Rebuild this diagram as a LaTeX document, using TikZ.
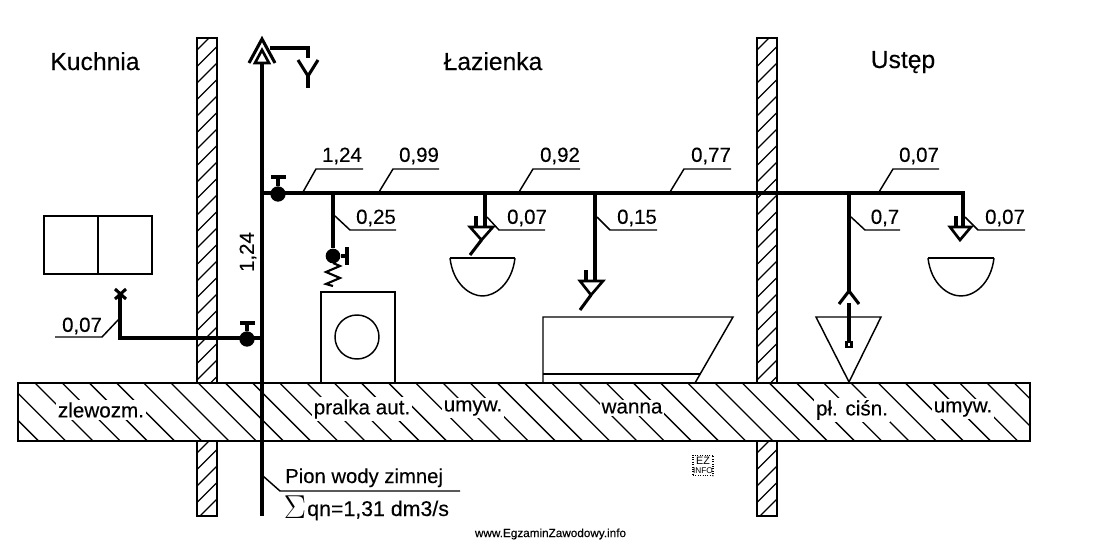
\documentclass[tikz,border=0pt]{standalone}
\usepackage{fontspec}
\setmainfont{Liberation Sans}[FakeBold=0.25]
\newfontfamily\stampfont{Liberation Sans}
\newcommand{\fsA}{\fontsize{18.5}{20}\selectfont}
\newcommand{\fsB}{\fontsize{15.3}{17}\selectfont}
\newcommand{\fsC}{\fontsize{15.5}{17}\selectfont}
\tikzset{
 pipe/.style={line width=2.5pt,draw=black,line cap=butt},
 subpipe/.style={line width=2.3pt,draw=black},
 fixture/.style={line width=1.1pt,draw=black},
 leader/.style={line width=1.1pt,draw=black},
 hatching/.style={line width=1pt,draw=black},
 room/.style={font=\fsA,inner sep=0pt,anchor=base},
 num/.style={font=\fsB,inner sep=0pt,text=black},
 slabtext/.style={font=\fsC,fill=white,inner sep=1.5pt},
 valveball/.style={circle,fill=black,inner sep=0pt},
}
\begin{document}
\begin{tikzpicture}[x=0.75pt,y=-0.75pt]
\useasboundingbox (0,0) rectangle (1100,543);
\fill[white] (0,0) rectangle (1100,543);

% walls
\foreach \xa/\ya/\yb in {197/38/383,197/441/516,757/38/383,757/441/516}{
  \begin{scope}
    \clip (\xa,\ya) rectangle ({\xa+20},\yb);
    \foreach \k in {0,...,24}{
      \draw[hatching] (\xa,{\ya+12+\k*16.5}) -- ({\xa+20},{\ya-8+\k*16.5});
    }
  \end{scope}
  \draw[fixture] (\xa,\ya) rectangle ({\xa+20},\yb);
}

% slab
\begin{scope}
  \clip (18,383) rectangle (1030,441);
  \foreach \k in {-2,...,38}{
    \draw[hatching] ({35+\k*27.2},383) -- ({35+\k*27.2+58},441);
  }
\end{scope}
\draw[fixture] (18,383) rectangle (1030,441);
\node[slabtext] (tz) at (101,410) {zlewozm.};
\node[slabtext] (tp) at (362,409) {pralka aut.};
\node[slabtext] (tu) at (473,408) {umyw.};
\node[slabtext] (tw) at (632,408) {wanna};
\node[slabtext] (tc) at (852,410) {pł. ciśn.};
\node[slabtext] (tv) at (963,409) {umyw.};

% room names
\node[room] (kuch) at (95,70) {Kuchnia};
\node[room] (lazi) at (493,70) {Łazienka};
\node[room] (uste) at (903,68) {Ustęp};

% fixtures
\draw[fixture] (44,216) rectangle (152,274);
\draw[fixture] (98,216) -- (98,274);
\draw[fixture] (321,383) -- (321,292) -- (395,292) -- (395,383);
\draw[fixture] (357,337) circle (22);
\draw[fixture] (450,258) -- (515,258);
\draw[fixture] (450,258) .. controls (453,284) and (470,296) .. (482.5,296) .. controls (495,296) and (512,284) .. (515,258);
\draw[fixture] (928,258) -- (994,258);
\draw[fixture] (928,258) .. controls (931,284) and (948,296) .. (961,296) .. controls (974,296) and (991,284) .. (994,258);
\draw[fixture] (543,383) -- (543,317) -- (733,317) -- (695,383);
\draw[fixture] (543,374) -- (700,374);
\draw[fixture] (849,382) -- (816,317) -- (881,317) -- cycle;

% named pipe points
\coordinate (riserTop) at (262,62);
\coordinate (riserBot) at (262,516);
\coordinate (mainL) at (262,193);
\coordinate (mainR) at (965,193);
\coordinate (leftJ) at (262,338);
\coordinate (leftC) at (120,338);
\coordinate (leftE) at (120,294);

% pipes
\draw[pipe] (riserTop) -- (riserBot);
\draw[pipe] (mainL) -- (mainR);
\draw[pipe,line join=miter] (leftJ) -- (leftC) -- (leftE);

% riser top
\draw[subpipe] (249,63) -- (262,39) -- (275,63);
\draw[subpipe,line width=2pt,fill=white] (255,63) -- (262,50) -- (269,63) -- cycle;
\coordinate (yTop) at (308,48);
\draw[subpipe] (270,48) -- (yTop) -- (308,58);
\draw[subpipe] (298,60) -- (308,76) -- (318,60);
\draw[subpipe] (308,76) -- (308,88);

% valves
\node[valveball,minimum size=11.5pt] (v1) at (278,194) {};
\draw[subpipe] (v1) -- (278,177);
\draw[subpipe] (271,177) -- (286,177);
\node[valveball,minimum size=11.5pt] (v2) at (247,339) {};
\draw[subpipe] (v2) -- (247,323);
\draw[subpipe] (240,323) -- (255,323);

% X at left end
\draw[subpipe] (115,289) -- (126,299);
\draw[subpipe] (126,289) -- (115,299);

% washer branch
\coordinate (b1) at (333,193);
\node[valveball,minimum size=11pt] (v3) at (333,256) {};
\draw[pipe] (b1) -- (v3);
\draw[subpipe] (v3) -- (347,256);
\draw[subpipe,line width=2.5pt] (347,247) -- (347,265);
\draw[fixture,line width=1.6pt] (333,263) -- (340,266) -- (326,272) -- (340,278) -- (326,284) -- (333,286);

% basin 1 branch
\coordinate (b2) at (485,193);
\coordinate (b2e) at (485,227);
\draw[pipe] (b2) -- (b2e);
\draw[subpipe] (476,216) -- (476,227);
\draw[subpipe,line width=2pt] (470,227) -- (493,227) -- (481.5,240) -- cycle;
\draw[subpipe] (481.5,240) -- (470,255);

% bath branch
\coordinate (b3) at (595,193);
\coordinate (b3e) at (595,281);
\draw[pipe] (b3) -- (b3e);
\draw[subpipe] (586,270) -- (586,281);
\draw[subpipe,line width=2pt] (580,281) -- (603,281) -- (591,295) -- cycle;
\draw[subpipe] (591,295) -- (580,310);

% boiler branch
\coordinate (b4) at (849,193);
\coordinate (b4e) at (849,291);
\draw[pipe] (b4) -- (b4e);
\draw[subpipe] (839,304) -- (849,291) -- (859,304);
\coordinate (b4s) at (849,344);
\draw[pipe] (849,303) -- (b4s);
\draw[line width=1.6pt,fill=white] (846.5,342) rectangle (851.5,347);

% basin 2 branch
\coordinate (b5) at (963,193);
\coordinate (b5e) at (963,227);
\draw[subpipe] (b5) -- (b5e);
\draw[subpipe] (956,216) -- (956,227);
\draw[subpipe,line width=2pt] (950,227) -- (971,227) -- (960,240) -- cycle;

% leaders on top
\node[num] (l1) at (342,156) {1,24};
\draw[leader] (303,192) -- (316,169) -- (363,169);
\node[num] (l2) at (419,156) {0,99};
\draw[leader] (379,192) -- (393,169) -- (439,169);
\node[num] (l3) at (560,156) {0,92};
\draw[leader] (519,192) -- (533,169) -- (580,169);
\node[num] (l4) at (711,156) {0,77};
\draw[leader] (670,192) -- (684,169) -- (731,169);
\node[num] (l5) at (919,156) {0,07};
\draw[leader] (879,192) -- (893,169) -- (939,169);

\node[num] (s1) at (376,218) {0,25};
\draw[leader] (335,216) -- (350,230) -- (396,230);
\node[num] (s2) at (527,218) {0,07};
\draw[leader] (487,217) -- (499,230) -- (545,230);
\node[num] (s3) at (637,218) {0,15};
\draw[leader] (597,217) -- (610,230) -- (657,230);
\node[num] (s4) at (885,218) {0,7};
\draw[leader] (851,217) -- (865,230) -- (900,230);
\node[num] (s5) at (1005,218) {0,07};
\draw[leader] (965,217) -- (978,230) -- (1025,230);

\node[num] (t1) at (82,326) {0,07};
\draw[leader] (55,337) -- (102,337) -- (119,319);
\node[num,rotate=90] (t2) at (248,252) {1,24};

% riser caption
\node[font=\fontsize{15.2}{17}\selectfont,anchor=base west,inner sep=0pt] (cap1) at (285,483) {Pion wody zimnej};
\draw[leader] (263,476) -- (280,491) -- (460,491);
\node[inner sep=0pt] (sig) at (295,507) {\fontsize{27}{27}\selectfont\(\Sigma\)};
\node[font=\fontsize{16}{17}\selectfont,anchor=base west,inner sep=0pt] (cap2) at (307,516) {qn=1,31 dm3/s};

% stamp
\node[draw=black,densely dotted,line width=0.8pt,minimum width=15pt,minimum height=15.5pt,inner sep=0pt] (stamp) at (703,465.5) {};
\node[inner sep=0pt,font=\stampfont\fontsize{8}{8}\selectfont] (stampA) at (703,460.5) {EZ};
\node[inner sep=0pt,font=\stampfont\fontsize{6.2}{6}\selectfont] (stampB) at (703,470.5) {INFO};

% footer
\node[font=\fontsize{8.8}{10}\selectfont,inner sep=0pt] (foot) at (550.5,534) {www.EgzaminZawodowy.info};
\end{tikzpicture}
\end{document}
